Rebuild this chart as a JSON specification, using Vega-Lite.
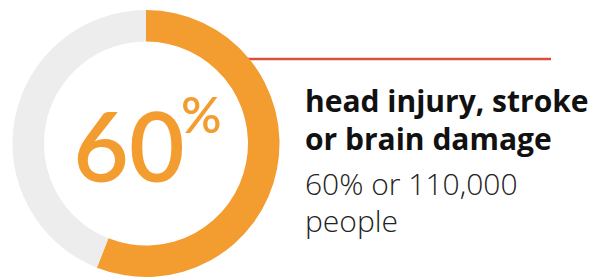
{
  "$schema": "https://vega.github.io/schema/vega-lite/v6.json",
  "width": 595,
  "height": 278,
  "autosize": {"type": "fit", "contains": "padding"},
  "padding": 0,
  "background": "white",
  "config": {"view": {"stroke": null}},
  "datasets": {
    "share": [
      {"group": "head injury, stroke or brain damage", "value": 56, "order": 1},
      {"group": "other", "value": 44, "order": 2}
    ],
    "labels": [
      {"big": "60", "sign": "%", "title": "head injury, stroke\nor brain damage", "body": "60% or 110,000\npeople"}
    ]
  },
  "layer": [
    {
      "data": {"name": "labels"},
      "mark": {"type": "rule", "color": "#D65239", "strokeWidth": 2.5},
      "encoding": {"x": {"value": 240}, "x2": {"value": 551}, "y": {"value": 59}}
    },
    {
      "data": {"name": "share"},
      "mark": {"type": "arc", "outerRadius": 133.5, "innerRadius": 102},
      "encoding": {
        "x": {"value": 146},
        "y": {"value": 143.5},
        "theta": {"field": "value", "type": "quantitative", "stack": true},
        "order": {"field": "order", "type": "quantitative"},
        "color": {
          "field": "group",
          "type": "nominal",
          "legend": null,
          "scale": {"domain": ["head injury, stroke or brain damage", "other"], "range": ["#F39C2F", "#EDEDED"]}
        }
      }
    },
    {
      "data": {"name": "labels"},
      "mark": {"type": "text", "font": "Lato", "fontWeight": 600, "fontSize": 96, "color": "#F39C2F", "align": "center", "baseline": "alphabetic"},
      "encoding": {"text": {"field": "big"}, "x": {"value": 129}, "y": {"value": 182}}
    },
    {
      "data": {"name": "labels"},
      "mark": {"type": "text", "font": "Lato", "fontWeight": 600, "fontSize": 50, "color": "#F39C2F", "align": "left", "baseline": "alphabetic"},
      "encoding": {"text": {"field": "sign"}, "x": {"value": 181}, "y": {"value": 133}}
    },
    {
      "data": {"name": "labels"},
      "mark": {"type": "text", "font": "Open Sans", "fontWeight": "bold", "fontSize": 30, "color": "#111111", "align": "left", "baseline": "alphabetic", "lineBreak": "\n", "lineHeight": 38},
      "encoding": {"text": {"field": "title"}, "x": {"value": 305}, "y": {"value": 112}}
    },
    {
      "data": {"name": "labels"},
      "mark": {"type": "text", "font": "Open Sans", "fontWeight": 300, "fontSize": 30, "color": "#222222", "align": "left", "baseline": "alphabetic", "lineBreak": "\n", "lineHeight": 37},
      "encoding": {"text": {"field": "body"}, "x": {"value": 305}, "y": {"value": 195}}
    }
  ]
}
